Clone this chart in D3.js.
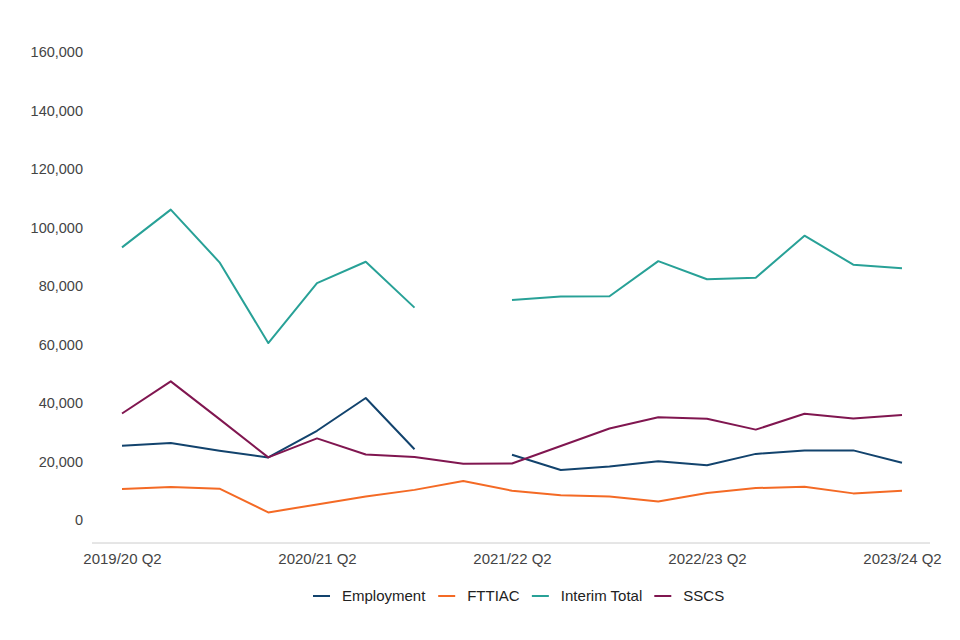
<!DOCTYPE html>
<html>
<head>
<meta charset="utf-8">
<script src="https://cdn.jsdelivr.net/npm/d3@7"></script>
<style>
  body { margin: 0; background: #fff; }
  svg { font-family: "Liberation Sans", Arial, sans-serif; }
</style>
</head>
<body>
<svg id="chart" width="960" height="640"></svg>
<script>
// Кварталы по оси X
const quarters = [
  "2019/20 Q2", "2019/20 Q3", "2019/20 Q4",
  "2020/21 Q1", "2020/21 Q2", "2020/21 Q3", "2020/21 Q4",
  "2021/22 Q1", "2021/22 Q2", "2021/22 Q3", "2021/22 Q4",
  "2022/23 Q1", "2022/23 Q2", "2022/23 Q3", "2022/23 Q4",
  "2023/24 Q1", "2023/24 Q2"
];
const xTickLabels = ["2019/20 Q2", "2020/21 Q2", "2021/22 Q2", "2022/23 Q2", "2023/24 Q2"];
const yTicks = [0, 20000, 40000, 60000, 80000, 100000, 120000, 140000, 160000];

// Значения рядов (null = нет данных)
const employment = [25400, 26300, 23700, 21400, 30500, 41700, 24200, null,
  22300, 17100, 18300, 20100, 18700, 22600, 23800, 23800, 19600];
const fttiac = [10600, 11300, 10700, 2600, 5300, 8000, 10300, 13300,
  10000, 8500, 8000, 6300, 9200, 10900, 11400, 9100, 10000];
const interimTotal = [93200, 106100, 88100, 60500, 81000, 88300, 72600, null,
  75200, 76400, 76500, 88500, 82300, 82800, 97200, 87300, 86100];
const sscs = [36400, 47400, 34500, 21400, 27900, 22400, 21500, 19200,
  19300, 25300, 31300, 35100, 34600, 30900, 36300, 34700, 35900];

const seriesNames = ["Employment", "FTTIAC", "Interim Total", "SSCS"];
const seriesColors = ["#12436D", "#F46A25", "#28A197", "#801650"];
const seriesValues = [employment, fttiac, interimTotal, sscs];

function drawChart() {
  const svg = d3.select("#chart");

  // Область построения
  const plotLeft = 92, plotRight = 930, axisY = 543;

  const scaleX = d3.scalePoint()
    .domain(quarters)
    .range([122, 902]);

  const scaleY = d3.scaleLinear()
    .domain([0, 160000])
    .range([520, 52]);

  // Ось Y: только подписи
  const yAxis = svg.append("g")
    .attr("transform", "translate(83,0)")
    .call(d3.axisLeft(scaleY).tickValues(yTicks).tickSize(0).tickPadding(0)
      .tickFormat(d3.format(",")));
  yAxis.select(".domain").remove();
  yAxis.selectAll("text")
    .attr("fill", "#444")
    .style("font-size", "14.5px")
    .style("font-family", "'Liberation Sans', Arial, sans-serif");

  // Ось X
  svg.append("line")
    .attr("x1", plotLeft).attr("x2", plotRight)
    .attr("y1", axisY).attr("y2", axisY)
    .attr("stroke", "#cccccc")
    .attr("stroke-width", 1);

  const xAxis = svg.append("g")
    .attr("transform", `translate(0,${axisY})`)
    .call(d3.axisBottom(scaleX).tickValues(xTickLabels).tickSize(0).tickPadding(10));
  xAxis.select(".domain").remove();
  xAxis.selectAll("text")
    .attr("fill", "#444")
    .style("font-size", "15px")
    .style("font-family", "'Liberation Sans', Arial, sans-serif");

  // Линии
  const line = d3.line()
    .defined(d => d.v !== null)
    .x(d => scaleX(d.q))
    .y(d => scaleY(d.v));

  seriesValues.forEach((vals, i) => {
    const data = quarters.map((q, j) => ({q: q, v: vals[j]}));
    svg.append("path")
      .datum(data)
      .attr("fill", "none")
      .attr("stroke", seriesColors[i])
      .attr("stroke-width", 2)
      .attr("stroke-linejoin", "round")
      .attr("d", line);
  });

  // Легенда
  const legend = svg.append("g").attr("transform", "translate(0,596)");
  const items = [];
  seriesNames.forEach((name, i) => {
    const g = legend.append("g");
    g.append("line")
      .attr("x1", 0).attr("x2", 17)
      .attr("stroke", seriesColors[i])
      .attr("stroke-width", 2);
    g.append("text")
      .attr("x", 29)
      .attr("dy", "0.35em")
      .attr("fill", "#222")
      .style("font-size", "15px")
      .text(name);
    items.push(g);
  });
  // Раскладываем элементы легенды подряд
  const gap = 12;
  const widths = items.map(g => g.node().getBBox().width);
  let x = 313;
  items.forEach((g, i) => {
    g.attr("transform", `translate(${x},0)`);
    x += widths[i] + gap;
  });
}

drawChart();
</script>
</body>
</html>
